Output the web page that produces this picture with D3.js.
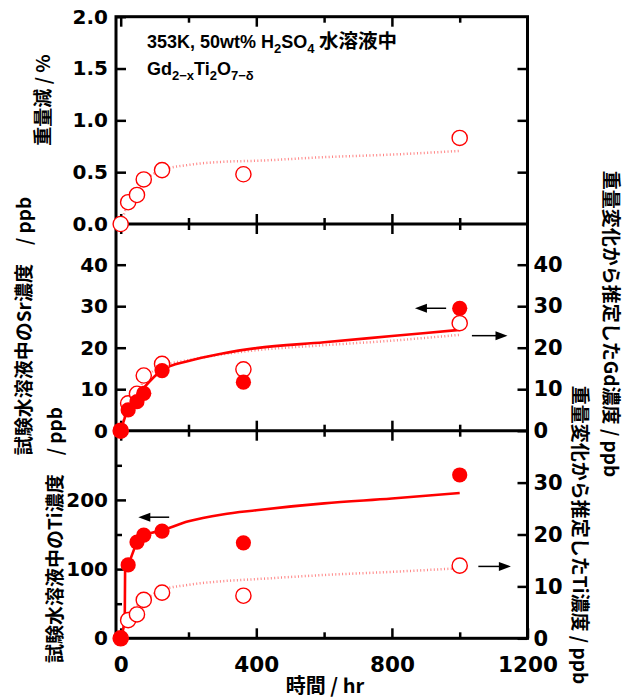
<!DOCTYPE html>
<html><head><meta charset="utf-8">
<script src="https://cdn.jsdelivr.net/npm/d3@7"></script>
<style>body{margin:0;background:#fff}</style>
</head><body><svg id="c" width="630" height="698"></svg>
<script>
// ---- data ----
const hours      = [0, 22, 48, 68, 122, 362, 1000];
const weightLoss = [0.0, 0.21, 0.28, 0.43, 0.52, 0.48, 0.83];   // %
const srConc     = [0, 5.0, 7.0, 9.0, 14.5, 11.7, 29.5];        // ppb (left)
const gdEst      = [0, 6.6, 8.9, 13.3, 16.1, 14.8, 25.9];       // ppb (right)
const tiConc     = [0, 106, 139, 149, 155, 138, 236];           // ppb (left)
const tiEst      = [0, 3.5, 4.6, 7.4, 8.8, 8.2, 14.0];          // ppb (right)

const fitHours   = [0, 22, 48, 68, 122, 200, 300, 400, 600, 800, 1000];
const weightFit  = [0, 0.20, 0.30, 0.40, 0.52, 0.57, 0.60, 0.61, 0.645, 0.67, 0.705];
const srFit      = [0, 5.3, 8.3, 10.3, 14.6, 16.8, 18.6, 19.9, 21.3, 22.8, 24.3];
const gdFit      = [0, 6.2, 9.0, 12.0, 15.5, 17.0, 18.4, 19.4, 20.6, 21.7, 23.1];
const tiEstFit   = [0, 4.5, 6.3, 7.3, 9.3, 10.3, 11.0, 11.4, 12.2, 12.8, 13.5];
const tiFitHours = [0, 12, 13, 22, 48, 68, 122, 200, 300, 400, 600, 800, 1000];
const tiFit      = [0, 30, 100, 107, 138, 148, 156, 169, 179, 185, 195, 202, 210];

const xMajor = [0, 400, 800, 1200];
const xMinor = [200, 600, 1000];
const wlTicks = [0, 0.5, 1.0, 1.5, 2.0];
const wlRightTicks = [0.5, 1.0, 1.5];
const concTicks = [0, 10, 20, 30, 40];
const tiMajor = [0, 100, 200];
const tiMinor = [50, 150, 250];
const tiEstTicks = [0, 10, 20, 30];

// arrows: [hour from, hour to, value] on the named axis
const arrowSrL = [960, 868, 29.5];
const arrowGdR = [1036, 1141, 22.9];
const arrowTiL = [143, 52, 175];
const arrowTiR = [1055, 1151, 13.85];

// ---- layout ----
const L = 116, R = 527.5, T = 16.7, S1 = 224, S2 = 430.7, B = 638.3;
const svg = d3.select('#c');
const x   = d3.scaleLinear([0, 1200], [120.7, R]);
const y1  = d3.scaleLinear([0, 2], [S1, T]);
const y2  = d3.scaleLinear([0, 50], [S2, 223.2]);
const y3L = d3.scaleLinear([0, 300], [B, S2]);
const y3R = d3.scaleLinear([0, 40], [B, S2]);

const RED = '#ff0000';
const tickFont = 'DejaVu Sans, sans-serif';
const cjk = "'Noto Sans CJK JP', sans-serif";

function style(g, fs) {
  g.select('.domain').remove();
  g.selectAll('line').attr('stroke', '#000').attr('stroke-width', 2.5);
  g.attr('font-family', tickFont).attr('font-size', fs || 20).attr('font-weight', 'bold');
  g.selectAll('text').attr('fill', '#000');
  return g;
}
const none = () => '';

// frame
svg.append('rect').attr('x', L).attr('y', T).attr('width', R - L).attr('height', B - T)
  .attr('fill', 'none').attr('stroke', '#000').attr('stroke-width', 3);
[S1, S2].forEach(s => svg.append('line').attr('x1', L).attr('x2', R).attr('y1', s).attr('y2', s)
  .attr('stroke', '#000').attr('stroke-width', 3));

// x ticks
const xin = xMajor.filter(d => d < 1200);
style(svg.append('g').attr('transform', `translate(0,${T})`).call(d3.axisTop(x).tickValues(xin).tickSize(-10).tickFormat(none)));
style(svg.append('g').attr('transform', `translate(0,${T})`).call(d3.axisTop(x).tickValues(xMinor).tickSize(-6).tickFormat(none)));
[S1, S2].forEach(s => {
  style(svg.append('g').attr('transform', `translate(0,${s})`).call(d3.axisTop(x).tickValues(xin).tickSize(10).tickFormat(none)));
  style(svg.append('g').attr('transform', `translate(0,${s})`).call(d3.axisBottom(x).tickValues(xin).tickSize(10).tickFormat(none)));
  style(svg.append('g').attr('transform', `translate(0,${s})`).call(d3.axisTop(x).tickValues(xMinor).tickSize(6).tickFormat(none)));
  style(svg.append('g').attr('transform', `translate(0,${s})`).call(d3.axisBottom(x).tickValues(xMinor).tickSize(6).tickFormat(none)));
});
style(svg.append('g').attr('transform', `translate(0,${B})`).call(d3.axisBottom(x).tickValues(xMajor).tickSize(-10).tickPadding(18.4).tickFormat(d3.format('d'))), 21.5);
style(svg.append('g').attr('transform', `translate(0,${B})`).call(d3.axisBottom(x).tickValues(xMinor).tickSize(-6).tickFormat(none)));

// y axes
style(svg.append('g').attr('transform', `translate(${L},0)`).call(d3.axisLeft(y1).tickValues(wlTicks).tickSize(-10).tickPadding(8).tickFormat(d3.format('.1f'))), 20);
style(svg.append('g').attr('transform', `translate(${R},0)`).call(d3.axisRight(y1).tickValues(wlRightTicks).tickSize(-10).tickFormat(none)));
style(svg.append('g').attr('transform', `translate(${L},0)`).call(d3.axisLeft(y2).tickValues(concTicks).tickSize(-10).tickPadding(8).tickFormat(d3.format('d'))), 20);
style(svg.append('g').attr('transform', `translate(${R},0)`).call(d3.axisRight(y2).tickValues(concTicks).tickSize(-10).tickPadding(6).tickFormat(d3.format('d'))), 21);
style(svg.append('g').attr('transform', `translate(${L},0)`).call(d3.axisLeft(y3L).tickValues(tiMajor).tickSize(-10).tickPadding(8).tickFormat(d3.format('d'))), 20);
style(svg.append('g').attr('transform', `translate(${L},0)`).call(d3.axisLeft(y3L).tickValues(tiMinor).tickSize(-6).tickFormat(none)));
style(svg.append('g').attr('transform', `translate(${R},0)`).call(d3.axisRight(y3R).tickValues(tiEstTicks).tickSize(-10).tickPadding(6).tickFormat(d3.format('d'))), 21);

// fit lines
function fitLine(hs, vs, ys, dotted) {
  const line = d3.line().x(d => x(d[0])).y(d => ys(d[1])).curve(d3.curveMonotoneX);
  const p = svg.append('path').datum(hs.map((h, i) => [h, vs[i]])).attr('d', line).attr('fill', 'none');
  if (dotted) p.attr('stroke', '#ff5a5a').attr('stroke-width', 2.5).attr('stroke-dasharray', '1,2.4').attr('opacity', 0.75);
  else p.attr('stroke', RED).attr('stroke-width', 2.6).attr('stroke-linejoin', 'round');
}
fitLine(fitHours, weightFit, y1, true);
fitLine(fitHours, gdFit, y2, true);
fitLine(fitHours, srFit, y2, false);
fitLine(fitHours, tiEstFit, y3R, true);
fitLine(tiFitHours, tiFit, y3L, false);

// points
function pts(vs, ys, filled) {
  svg.append('g').selectAll('circle').data(hours.map((h, i) => [h, vs[i]])).join('circle')
    .attr('cx', d => x(d[0])).attr('cy', d => ys(d[1])).attr('r', 7.6)
    .attr('fill', filled ? RED : '#fff').attr('stroke', RED).attr('stroke-width', filled ? 0 : 1.4);
}
pts(weightLoss, y1, false);
pts(gdEst, y2, false);
pts(srConc, y2, true);
pts(tiEst, y3R, false);
pts(tiConc, y3L, true);

// arrows
function arrow(a, ys) {
  const x1 = x(a[0]), x2 = x(a[1]), yy = ys(a[2]);
  const dir = Math.sign(x2 - x1), len = 12, hw = 4.5;
  svg.append('line').attr('x1', x1).attr('x2', x2 - dir * len * 0.8).attr('y1', yy).attr('y2', yy)
    .attr('stroke', '#000').attr('stroke-width', 1.5);
  svg.append('path').attr('d', `M${x2},${yy}L${x2 - dir * len},${yy - hw}L${x2 - dir * len},${yy + hw}Z`).attr('fill', '#000');
}
arrow(arrowSrL, y2); arrow(arrowGdR, y2); arrow(arrowTiL, y3L); arrow(arrowTiR, y3R);

// title texts
const t1 = svg.append('text').attr('x', 147).attr('y', 48.3).attr('font-family', 'Liberation Sans, Arial, sans-serif')
  .attr('font-weight', 'bold').attr('font-size', 18).attr('fill', '#000');
t1.append('tspan').text('353K, 50wt% H');
t1.append('tspan').text('2').attr('font-size', 13).attr('dy', 5);
t1.append('tspan').text('SO').attr('dy', -5);
t1.append('tspan').text('4').attr('font-size', 13).attr('dy', 5);
t1.append('tspan').text(' 水溶液中').attr('dy', -5).attr('font-family', cjk).attr('font-size', 19.5);

const t2 = svg.append('text').attr('x', 147).attr('y', 75).attr('font-family', 'Liberation Sans, Arial, sans-serif')
  .attr('font-weight', 'bold').attr('font-size', 18).attr('fill', '#000');
t2.append('tspan').text('Gd');
t2.append('tspan').text('2−x').attr('font-size', 13).attr('dy', 5);
t2.append('tspan').text('Ti').attr('dy', -5);
t2.append('tspan').text('2').attr('font-size', 13).attr('dy', 5);
t2.append('tspan').text('O').attr('dy', -5);
t2.append('tspan').text('7−δ').attr('font-size', 13).attr('dy', 5);

// axis titles
function vlabel(txt, cx, cy, rot) {
  svg.append('text').attr('transform', `translate(${cx},${cy}) rotate(${rot})`)
    .attr('text-anchor', 'middle').attr('dominant-baseline', 'central')
    .attr('font-family', cjk).attr('font-weight', 'bold').attr('font-size', 19).attr('fill', '#000').text(txt);
}
vlabel('重量減 / %', 41, 100, -90);
vlabel('試験水溶液中のSr濃度　/ ppb', 22, 326, -90);
vlabel('試験水溶液中のTi濃度　/ ppb', 53, 535, -90);
vlabel('重量変化から推定したGd濃度 / ppb', 612, 324, 90);
vlabel('重量変化から推定したTi濃度 / ppb', 581, 535, 90);

svg.append('text').attr('x', 325).attr('y', 693).attr('text-anchor', 'middle')
  .attr('font-family', cjk).attr('font-weight', 'bold').attr('font-size', 20).attr('fill', '#000').text('時間 / hr');
</script></body></html>
